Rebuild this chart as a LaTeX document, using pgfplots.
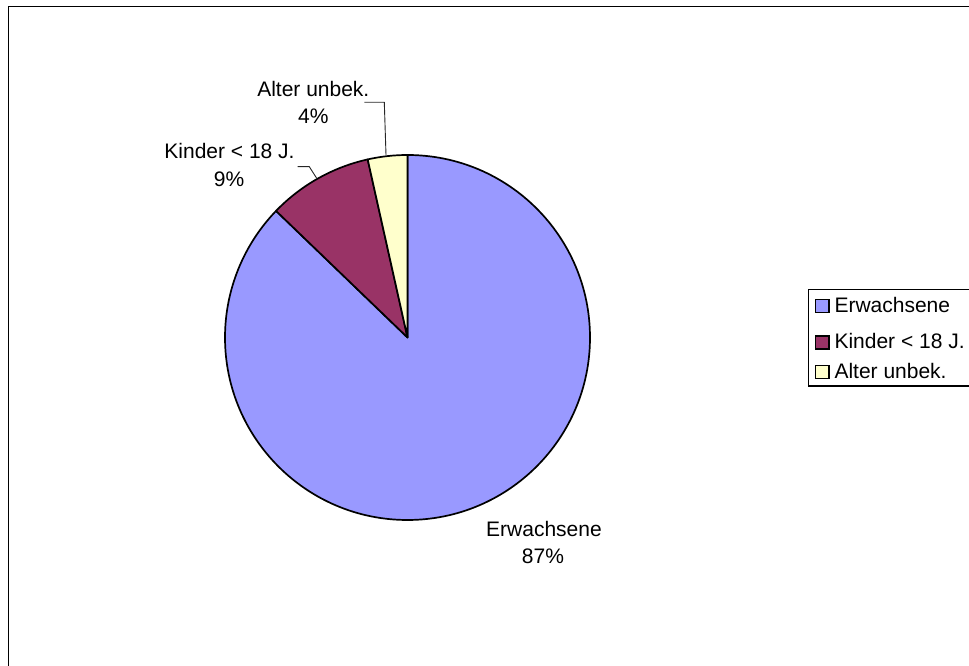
\documentclass[border=0pt]{standalone}
\usepackage{pgfplots}
\usepackage{pgfplotstable}
\usepackage{fontspec}
\setmainfont{Liberation Sans}
\pgfplotsset{compat=1.18}
\definecolor{erw}{HTML}{9999FF}
\definecolor{kin}{HTML}{993366}
\definecolor{alt}{HTML}{FFFFCC}
\newcommand\lf{\fontsize{21}{27}\selectfont}
\pgfplotstableread{
label value
Erwachsene 87.2
Kinder 9.3
Alter 3.5
}\piedata
\begin{document}
\begin{tikzpicture}
\useasboundingbox (0,0) rectangle (969pt,666pt);
\pgfplotstablegetelem{0}{value}\of\piedata \pgfmathsetmacro\vA{\pgfplotsretval}
\pgfplotstablegetelem{1}{value}\of\piedata \pgfmathsetmacro\vB{\pgfplotsretval}
\pgfplotstablegetelem{2}{value}\of\piedata \pgfmathsetmacro\vC{\pgfplotsretval}
\pgfmathsetmacro\aA{90-3.6*\vA}
\pgfmathsetmacro\aB{\aA-3.6*\vB}
\pgfmathsetmacro\aC{\aB-3.6*\vC}
\begin{axis}[at={(0,0)}, anchor=south west, scale only axis,
  width=969pt, height=666pt, xmin=0, xmax=969, ymin=0, ymax=666,
  hide axis, clip=false]
% frame
\draw[line width=1.3pt, black] (axis cs:8.5,-20) -- (axis cs:8.5,659.5) -- (axis cs:1000,659.5);
% slices
\filldraw[fill=erw, draw=black, line width=1.7pt, line join=round]
  (axis cs:407.5,328.5) -- ++(90:182.5pt) arc[start angle=90, end angle=\aA, radius=182.5pt] -- cycle;
\filldraw[fill=kin, draw=black, line width=1.7pt, line join=round]
  (axis cs:407.5,328.5) -- ++(\aA:182.5pt) arc[start angle=\aA, end angle=\aB, radius=182.5pt] -- cycle;
\filldraw[fill=alt, draw=black, line width=1.7pt, line join=round]
  (axis cs:407.5,328.5) -- ++(\aB:182.5pt) arc[start angle=\aB, end angle=\aC, radius=182.5pt] -- cycle;
% data labels
\node[anchor=base, inner sep=0pt] at (axis cs:544,129.3) {\lf Erwachsene};
\node[anchor=base, inner sep=0pt] at (axis cs:543,102.3) {\lf 87\%};
\node[anchor=base, inner sep=0pt] at (axis cs:229.5,507) {\lf Kinder < 18 J.};
\node[anchor=base, inner sep=0pt] at (axis cs:229,479) {\lf 9\%};
\node[anchor=base, inner sep=0pt] at (axis cs:313.3,569.3) {\lf Alter unbek.};
\node[anchor=base, inner sep=0pt] at (axis cs:313.3,542.7) {\lf 4\%};
% leader lines
\draw[line width=0.9pt, black!85] (axis cs:364.3,563.7) -- (axis cs:384.3,563.7) -- (axis cs:386,511);
\draw[line width=0.9pt, black!85] (axis cs:297.7,499.3) -- (axis cs:309.3,499.3) -- (axis cs:316.7,487.7);
% legend
\draw[line width=1.3pt, black] (axis cs:1000,376.7) -- (axis cs:808.3,376.7) -- (axis cs:808.3,280) -- (axis cs:1000,280);
\filldraw[fill=erw, draw=black, line width=1.3pt] (axis cs:815.5,366.5) rectangle (axis cs:829,353.5);
\filldraw[fill=kin, draw=black, line width=1.3pt] (axis cs:815.5,330) rectangle (axis cs:829,317);
\filldraw[fill=alt, draw=black, line width=1.3pt] (axis cs:815.5,300.5) rectangle (axis cs:829,287.5);
\node[anchor=base west, inner sep=0pt] at (axis cs:834.3,353.3) {\lf Erwachsene};
\node[anchor=base west, inner sep=0pt] at (axis cs:834.3,317) {\lf Kinder < 18 J.};
\node[anchor=base west, inner sep=0pt] at (axis cs:834.3,287) {\lf Alter unbek.};
\end{axis}
\end{tikzpicture}
\end{document}
